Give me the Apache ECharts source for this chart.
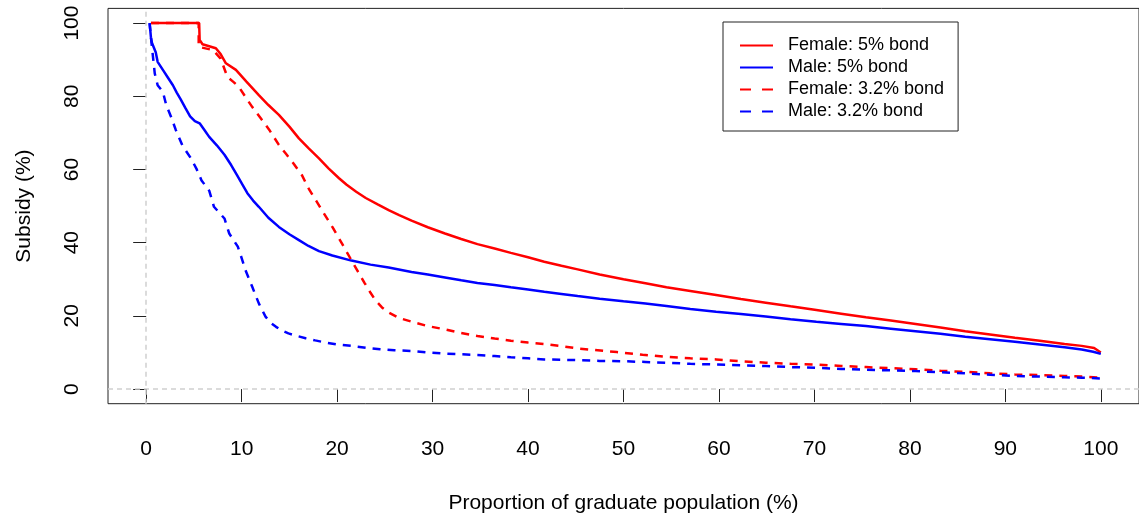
<!DOCTYPE html>
<html>
<head>
<meta charset="utf-8">
<script src="https://cdn.jsdelivr.net/npm/echarts@6/dist/echarts.min.js"></script>
<style>html,body{margin:0;padding:0;background:#fff}#c{width:1139px;height:519px}</style>
</head>
<body>
<div id="c"></div>
<script>
// ---- data (x = proportion of graduate population %, y = subsidy %) ----
const seriesNames = ['Female: 5% bond', 'Male: 5% bond', 'Female: 3.2% bond', 'Male: 3.2% bond'];
const xTicks = [0, 10, 20, 30, 40, 50, 60, 70, 80, 90, 100];
const yTicks = [0, 20, 40, 60, 80, 100];

const female5 = [[0.5,100],[5.55,100],[5.6,95.4],[5.9,94.2],[7.3,93.1],[7.8,91.5],[8.35,89],[9.4,87.2],[10.5,84],[11.8,80.3],[12.8,77.6],[13.9,74.9],[15,71.7],[16,68.5],[17,65.8],[18.1,63],[19.1,60.3],[20.2,57.6],[21,55.8],[22,53.9],[23,52.2],[24.3,50.4],[25.4,48.9],[26.5,47.5],[27.8,46],[29.5,44.2],[31.3,42.5],[33,41],[34.7,39.6],[36.5,38.4],[38.2,37.2],[40,36],[41.7,34.8],[43.5,33.7],[45.2,32.7],[47.5,31.3],[50,30],[52.3,28.9],[54.5,27.8],[57,26.8],[59.7,25.7],[62.3,24.6],[64.9,23.6],[67.5,22.6],[70.2,21.6],[72.8,20.6],[75.4,19.6],[78,18.7],[80.6,17.8],[83.2,16.8],[85.8,15.8],[88.4,14.9],[91,14],[93.6,13.2],[96.2,12.3],[98,11.8],[99.3,11.2],[100,10]];
const male5 = [[0.36,100],[0.5,96],[0.6,94.6],[1.0,92],[1.2,89.4],[1.8,87],[2.3,85],[2.8,83],[3.2,81],[3.6,79.2],[4.1,76.8],[4.6,74.5],[5.1,73.2],[5.6,72.6],[6.1,70.8],[6.6,68.9],[7.4,66.6],[8.2,64],[8.9,61.2],[9.5,58.5],[10.1,55.8],[10.6,53.5],[11.2,51.5],[11.8,49.8],[12.8,46.8],[13.9,44.3],[15,42.3],[16,40.7],[17,39.1],[18.1,37.7],[19.5,36.5],[21.5,35.1],[23.5,34],[25.4,33.2],[27.8,32],[29.5,31.3],[31.3,30.5],[33,29.7],[34.7,29],[36.5,28.4],[38.2,27.8],[40,27.2],[41.7,26.6],[43.5,26],[45.2,25.4],[47.5,24.7],[50,24],[52.3,23.4],[54.5,22.7],[57,21.9],[59.7,21.1],[62.3,20.5],[64.9,19.8],[67.5,19.1],[70.2,18.4],[72.8,17.8],[75.4,17.2],[78,16.5],[80.6,15.8],[83.2,15.1],[85.8,14.3],[88.4,13.6],[91,12.9],[93.6,12.2],[96.2,11.4],[98,10.8],[99.2,10.2],[100,9.6]];
const female32 = [[0.5,100],[5.5,100],[5.5,93.5],[7,92.6],[7.8,90.3],[8.5,85.3],[9.1,84],[9.7,82.6],[10.4,79.8],[11.1,77.1],[12,74],[12.9,70.8],[13.9,66.7],[14.6,64.4],[15.3,62.1],[16.3,58.5],[17.1,54.4],[17.8,51.5],[18.4,48.9],[19.5,44.3],[20.5,39.8],[21.5,35.2],[22.2,32],[22.9,28.9],[23.5,26.3],[24,24.3],[24.7,22.3],[25.4,20.9],[26.5,19.4],[27.8,18.4],[29.5,17.2],[31.3,16.3],[33,15.3],[34.7,14.5],[36.5,13.8],[38.2,13.2],[40,12.7],[41.7,12.3],[43.5,11.7],[45.2,11.1],[47.3,10.6],[49.3,10.1],[52,9.4],[54.5,8.8],[57,8.4],[59.7,8.1],[62.3,7.6],[64.9,7.2],[67.5,6.9],[70.2,6.7],[72.8,6.3],[75.4,6],[78,5.7],[80.6,5.4],[83.2,5],[85.8,4.7],[88.4,4.3],[91,4],[93.6,3.8],[96.2,3.6],[98,3.4],[100,3.1]];
const male32 = [[0.36,100],[0.5,96],[0.6,93.5],[0.9,86.2],[1.2,83],[1.75,81.2],[2.1,77.6],[2.6,74.4],[3.1,70.8],[3.8,66.5],[4.7,63],[5.3,60],[5.8,57],[6.6,54.2],[7.1,49.8],[8.2,46.6],[8.7,42.5],[9.6,38.9],[10.0,35.8],[10.4,32.5],[11.1,28],[11.8,23.4],[12.5,19.8],[13,18.2],[13.6,17],[14.2,16],[14.9,15.2],[15.8,14.5],[16.7,13.9],[17.7,13.3],[18.8,12.7],[20,12.2],[21.5,11.8],[23,11.3],[24.5,10.9],[26,10.6],[27.8,10.4],[29.5,10],[31.3,9.7],[33,9.5],[34.7,9.3],[36.5,9],[38.2,8.7],[40,8.4],[41.7,8.1],[43.5,8],[45.2,7.9],[47.5,7.7],[50,7.6],[52.3,7.4],[54.5,7.2],[57,6.9],[59.7,6.7],[62.3,6.5],[64.9,6.3],[67.5,6],[70.2,5.8],[72.8,5.5],[75.4,5.3],[78,5.1],[80.6,4.9],[83.2,4.6],[85.8,4.3],[88.4,3.9],[91,3.6],[93.6,3.4],[96.2,3.2],[98,3.1],[100,2.9]];

// ---- chart ----
const FONT = '"Liberation Sans", Arial, sans-serif';
const chart = echarts.init(document.getElementById('c'), null, {renderer: 'canvas'});
const mk = (name, data, color, dashed) => ({
  name, type: 'line', data, symbol: 'none', showSymbol: false, smooth: false,
  lineStyle: {color, width: 2.5, type: dashed ? [8, 7] : 'solid'},
  itemStyle: {color}, emphasis: {disabled: true}, silent: true, z: 3
});
const refLine = {
  name: 'ref', type: 'line', data: [], silent: true, z: 1,
  markLine: {
    silent: true, symbol: 'none', label: {show: false}, animation: false,
    lineStyle: {color: '#cfcfcf', width: 1.5, type: [5, 4]},
    data: [{xAxis: 0}, {yAxis: 0}]
  }
};
chart.setOption({
  animation: false,
  backgroundColor: '#fff',
  textStyle: {fontFamily: FONT},
  grid: {left: 108, top: 8.4, width: 1036, height: 395.3, show: true, borderColor: '#222', borderWidth: 1, backgroundColor: 'transparent'},
  legend: {
    orient: 'vertical', left: 723, top: 22,
    padding: [14.5, 14, 10.5, 16],
    itemWidth: 33, itemHeight: 14, itemGap: 4,
    backgroundColor: '#fff', borderColor: '#222', borderWidth: 1,
    selectedMode: false,
    data: [
      {name: seriesNames[0]},
      {name: seriesNames[1]},
      {name: seriesNames[2], lineStyle: {type: [11, 11]}},
      {name: seriesNames[3], lineStyle: {type: [11, 11]}}
    ],
    itemStyle: {color: 'rgba(0,0,0,0)', borderColor: 'rgba(0,0,0,0)', borderWidth: 0, opacity: 0},
    textStyle: {fontFamily: FONT, fontSize: 18, color: '#000', lineHeight: 18, padding: [0, 0, 0, 10]}
  },
  xAxis: {
    type: 'value', min: -4, max: 104,
    name: 'Proportion of graduate population (%)', nameLocation: 'middle', nameGap: 89,
    nameTextStyle: {fontFamily: FONT, fontSize: 21, color: '#000'},
    axisLine: {show: false},
    axisTick: {show: true, length: 13, inside: false, customValues: xTicks, lineStyle: {color: '#222', width: 1}},
    axisLabel: {show: true, customValues: xTicks, margin: 35, fontFamily: FONT, fontSize: 21, color: '#000'},
    splitLine: {show: false}
  },
  yAxis: {
    type: 'value', min: -4, max: 104,
    name: 'Subsidy (%)', nameLocation: 'middle', nameGap: 73, nameRotate: 90,
    nameTextStyle: {fontFamily: FONT, fontSize: 21, color: '#000'},
    axisLine: {show: false},
    axisTick: {show: true, length: 13, inside: false, customValues: yTicks, lineStyle: {color: '#222', width: 1}},
    axisLabel: {show: true, customValues: yTicks, rotate: 90, margin: 25, fontFamily: FONT, fontSize: 21, color: '#000'},
    splitLine: {show: false}
  },
  series: [
    refLine,
    mk(seriesNames[0], female5, '#ff0000', false),
    mk(seriesNames[1], male5, '#0000ff', false),
    mk(seriesNames[2], female32, '#ff0000', true),
    mk(seriesNames[3], male32, '#0000ff', true)
  ]
});
</script>
</body>
</html>
